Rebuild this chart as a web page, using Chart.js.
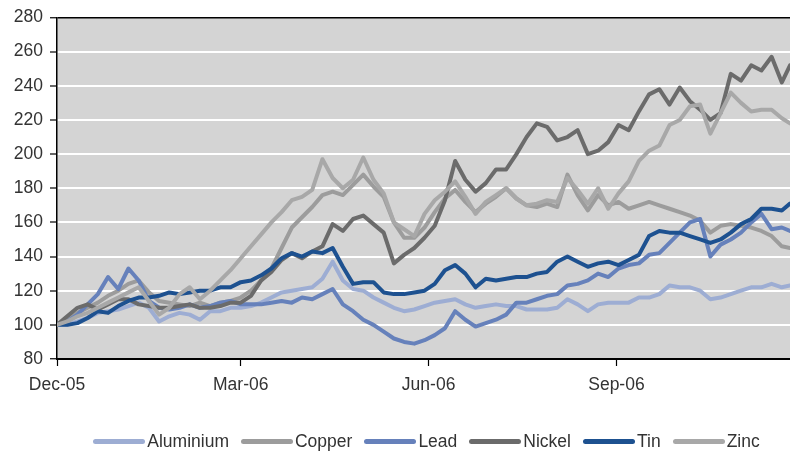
<!DOCTYPE html>
<html>
<head>
<meta charset="utf-8">
<script src="https://cdn.jsdelivr.net/npm/chart.js@4.4.1/dist/chart.umd.min.js"></script>
<style>
  html, body { margin: 0; padding: 0; background: #fff; }
  #wrap { position: relative; width: 790px; height: 452px; }
  #legend {
    position: absolute; left: 60px; width: 733px; top: 430px; height: 22px;
    display: flex; justify-content: center; align-items: center;
    font-family: 'Liberation Sans', Arial, sans-serif; font-size: 17.5px; color: #333;
  }
  #legend .item { display: flex; align-items: center; margin: 0 6px; }
  #legend .swatch { width: 52px; height: 5px; border-radius: 3px; margin-right: 2px; }
</style>
</head>
<body>
<div id="wrap">
  <canvas id="chart"></canvas>
  <div id="legend"></div>
</div>
<script>
// days since start of Dec-05
const days = [0,5,10,15,20,25,30,35,40,45,50,55,60,65,70,75,80,85,90,95,
  100,105,110,115,120,125,130,135,140,145,150,155,160,165,170,175,180,185,190,195,
  200,205,210,215,220,225,230,235,240,245,250,255,260,265,270,275,280,285,290,295,
  300,305,310,315,320,325,330,335,340,345,350,355,359];

const tickDays   = [0, 90, 182, 274];
const tickLabels = ['Dec-05', 'Mar-06', 'Jun-06', 'Sep-06'];

const aluminium = [100,100,102,104,107,108,109,111,113,110,102,105,107,106,103,108,108,110,110,111,
  113,116,119,120,121,122,127,137,126,121,120,116,113,110,108,109,111,113,114,115,
  112,110,111,112,111,111,109,109,109,110,115,112,108,112,113,113,113,116,116,118,
  123,122,122,120,115,116,118,120,122,122,124,122,123];

const copper = [100,103,107,110,113,117,120,124,126,119,114,113,112,111,113,111,113,114,116,120,
  126,133,145,157,163,169,176,178,176,182,188,181,175,160,151,151,157,166,174,179,
  172,166,171,175,180,174,170,169,171,169,188,176,167,176,170,172,168,170,172,170,
  168,166,164,161,154,158,159,158,157,155,152,146,145];

const lead = [100,102,106,112,118,128,121,133,126,114,110,109,110,112,110,111,113,114,112,112,
  112,113,114,113,116,115,118,121,112,108,103,100,96,92,90,89,91,94,98,108,
  103,99,101,103,106,113,113,115,117,118,123,124,126,130,128,133,135,136,141,142,
  148,154,160,162,140,147,150,154,160,165,156,157,155];

const nickel = [100,105,110,112,109,112,115,115,112,111,110,110,111,112,110,110,111,113,113,117,
  126,131,138,142,139,143,146,159,155,162,164,159,154,136,141,145,151,158,173,196,
  185,178,183,191,191,200,210,218,216,208,210,214,200,202,207,217,214,225,235,238,
  229,239,231,226,220,224,247,243,252,249,257,242,252];

const tin = [100,100,101,104,108,107,111,114,116,116,117,119,118,119,120,120,122,122,125,126,
  129,133,139,142,140,143,142,145,134,124,125,125,119,118,118,119,120,124,132,135,
  130,122,127,126,127,128,128,130,131,137,140,137,134,136,137,135,138,141,152,155,
  154,154,152,150,148,150,154,159,162,168,168,167,171];

const zinc = [100,102,105,107,110,113,116,119,122,114,106,110,118,122,115,120,126,132,139,146,
  153,160,166,173,175,179,197,186,180,185,198,185,177,160,156,152,165,173,178,184,
  175,165,172,176,180,174,170,171,173,172,186,179,171,180,168,177,184,196,202,205,
  217,220,228,229,212,224,236,230,225,226,226,221,218];

const names  = ['Aluminium', 'Copper', 'Lead', 'Nickel', 'Tin', 'Zinc'];
const series = [aluminium, copper, lead, nickel, tin, zinc];
const colors = ['#9dadd3', '#9c9c9c', '#6681bb', '#6b6b6b', '#1d5190', '#a8a8a8'];

const font = { family: "'Liberation Sans', Arial, sans-serif", size: 17.5 };

const plotBg = {
  id: 'plotBg',
  beforeDraw(chart) {
    const { ctx, chartArea: a } = chart;
    ctx.save();
    ctx.fillStyle = '#d4d4d4';
    ctx.fillRect(a.left, a.top, a.right - a.left, a.bottom - a.top);
    ctx.restore();
  }
};

const datasets = names.map((n, i) => ({
  label: n,
  data: series[i].map((v, j) => ({ x: days[j], y: v })),
  borderColor: colors[i],
  backgroundColor: colors[i],
  borderWidth: 4,
  pointRadius: 0,
  tension: 0,
  borderJoinStyle: 'round',
  borderCapStyle: 'round',
  order: names.length - i   // later series on top
}));

new Chart(document.getElementById('chart'), {
  type: 'line',
  data: { datasets },
  options: {
    responsive: true,
    maintainAspectRatio: false,
    animation: false,
    layout: { padding: { top: 17, right: 0, left: 0, bottom: 0 } },
    plugins: { legend: { display: false }, tooltip: { enabled: false } },
    scales: {
      x: {
        type: 'linear',
        min: 0,
        max: 359,
        afterBuildTicks: s => { s.ticks = tickDays.map(v => ({ value: v })); },
        afterFit: s => { s.height = 93; },
        grid: { drawOnChartArea: false, drawTicks: true, tickLength: 7, color: '#000', tickWidth: 1.2 },
        border: { display: true, color: '#000', width: 2 },
        ticks: {
          autoSkip: false, maxRotation: 0, padding: 9, color: '#333', font,
          callback: v => tickLabels[tickDays.indexOf(v)] ?? ''
        }
      },
      y: {
        min: 80,
        max: 280,
        afterFit: s => { s.width = 57; },
        grid: {
          color: c => (c.tick.value === 280 || c.tick.value === 80) ? '#000' : '#fff',
          lineWidth: c => (c.tick.value === 280 || c.tick.value === 80) ? 1.5 : 2,
          tickColor: '#000',
          tickWidth: 1.2,
          tickLength: 7
        },
        border: { display: true, color: '#000', width: 1.5 },
        ticks: { stepSize: 20, padding: 7, color: '#333', font }
      }
    }
  },
  plugins: [plotBg]
});

const legend = document.getElementById('legend');
names.forEach((n, i) => {
  const item = document.createElement('div');
  item.className = 'item';
  const sw = document.createElement('span');
  sw.className = 'swatch';
  sw.style.background = colors[i];
  const tx = document.createElement('span');
  tx.textContent = n;
  item.appendChild(sw);
  item.appendChild(tx);
  legend.appendChild(item);
});
</script>
</body>
</html>
